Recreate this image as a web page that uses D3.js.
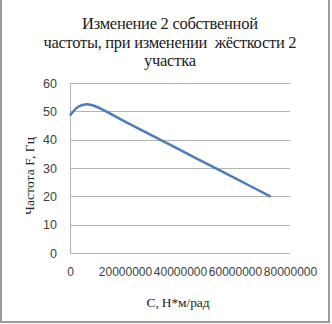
<!DOCTYPE html>
<html>
<head>
<meta charset="utf-8">
<script src="https://cdn.jsdelivr.net/npm/d3@7"></script>
<style>
body { margin: 0; background: #fff; }
svg { display: block; }
</style>
</head>
<body>
<svg id="chart" width="332" height="324"></svg>
<script>
// stiffness of section 2 (N*m/rad) and the 2nd natural frequency (Hz)
var stiffness = [0, 3000000, 6000000, 9000000, 20000000, 40000000, 60000000, 73000000];
var freq = [48.5, 51.6, 52.5, 51.9, 46.4, 36.4, 26.4, 19.9];
var xTicks = [0, 20000000, 40000000, 60000000, 80000000];
var yTicks = [0, 10, 20, 30, 40, 50, 60];
var titleLines = ["Изменение 2 собственной", "частоты, при изменении  жёсткости 2", "участка"];

var svg = d3.select("#chart");

// outer frame
svg.append("rect")
	.attr("x", 1).attr("y", -1)
	.attr("width", 328).attr("height", 323)
	.attr("fill", "none")
	.attr("stroke", "#9a9a9a")
	.attr("stroke-width", 2);

var margin = {left: 70, top: 83, right: 42, bottom: 71};
var width = 332 - margin.left - margin.right,
	height = 324 - margin.top - margin.bottom;

var g = svg.append("g").attr("transform", "translate(" + margin.left + "," + margin.top + ")");

var x = d3.scaleLinear().domain([0, 80000000]).range([0, width]);
var y = d3.scaleLinear().domain([0, 60]).range([height, 0]);

// gridlines
g.selectAll("line.grid")
	.data(yTicks)
	.enter().append("line")
	.attr("class", "grid")
	.attr("x1", 0).attr("x2", width)
	.attr("y1", function(d) { return Math.round(y(d)) + 0.5; })
	.attr("y2", function(d) { return Math.round(y(d)) + 0.5; })
	.attr("stroke", "#b4b4b4");

g.append("line")
	.attr("x1", 0.5).attr("x2", 0.5)
	.attr("y1", 0).attr("y2", height)
	.attr("stroke", "#b4b4b4");

var tickFont = "'Liberation Sans', Arial, sans-serif";

var yax = g.append("g")
	.call(d3.axisLeft(y).tickValues(yTicks).tickSize(0).tickPadding(13));
yax.select(".domain").remove();
yax.selectAll("text").style("font-family", tickFont).attr("font-size", "12.5px").attr("fill", "#404040");

var xax = g.append("g")
	.attr("transform", "translate(0," + height + ")")
	.call(d3.axisBottom(x).tickValues(xTicks).tickFormat(d3.format("d")).tickSize(0).tickPadding(14));
xax.select(".domain").remove();
xax.selectAll("text").style("font-family", tickFont).attr("font-size", "12px").attr("fill", "#404040");

// the curve
var line = d3.line()
	.x(function(d, i) { return x(stiffness[i]); })
	.y(function(d) { return y(d); })
	.curve(d3.curveCatmullRom.alpha(0.5));

g.append("path")
	.datum(freq)
	.attr("d", line)
	.attr("fill", "none")
	.attr("stroke", "#4a7ebb")
	.attr("stroke-width", 2.5);

var serif = "'Liberation Serif', 'Times New Roman', serif";

var titleWidths = [176, 253, 52];
svg.append("g").selectAll("text")
	.data(titleLines)
	.enter().append("text")
	.attr("x", 170)
	.attr("y", function(d, i) { return [29, 47.5, 66][i]; })
	.attr("text-anchor", "middle")
	.attr("textLength", function(d, i) { return titleWidths[i]; })
	.attr("lengthAdjust", "spacing")
	.style("font-family", serif)
	.style("white-space", "pre")
	.attr("font-size", "16.5px")
	.attr("fill", "#222")
	.text(function(d) { return d; });

svg.append("text")
	.attr("transform", "translate(34,176) rotate(-90)")
	.attr("text-anchor", "middle")
	.attr("textLength", 78)
	.attr("lengthAdjust", "spacing")
	.style("font-family", serif)
	.attr("font-size", "13.5px")
	.attr("fill", "#222")
	.text("Частота F, Гц");

svg.append("text")
	.attr("x", 178).attr("y", 307)
	.attr("text-anchor", "middle")
	.attr("textLength", 63)
	.attr("lengthAdjust", "spacing")
	.style("font-family", serif)
	.attr("font-size", "13.5px")
	.attr("fill", "#222")
	.text("С, Н*м/рад");
</script>
</body>
</html>
